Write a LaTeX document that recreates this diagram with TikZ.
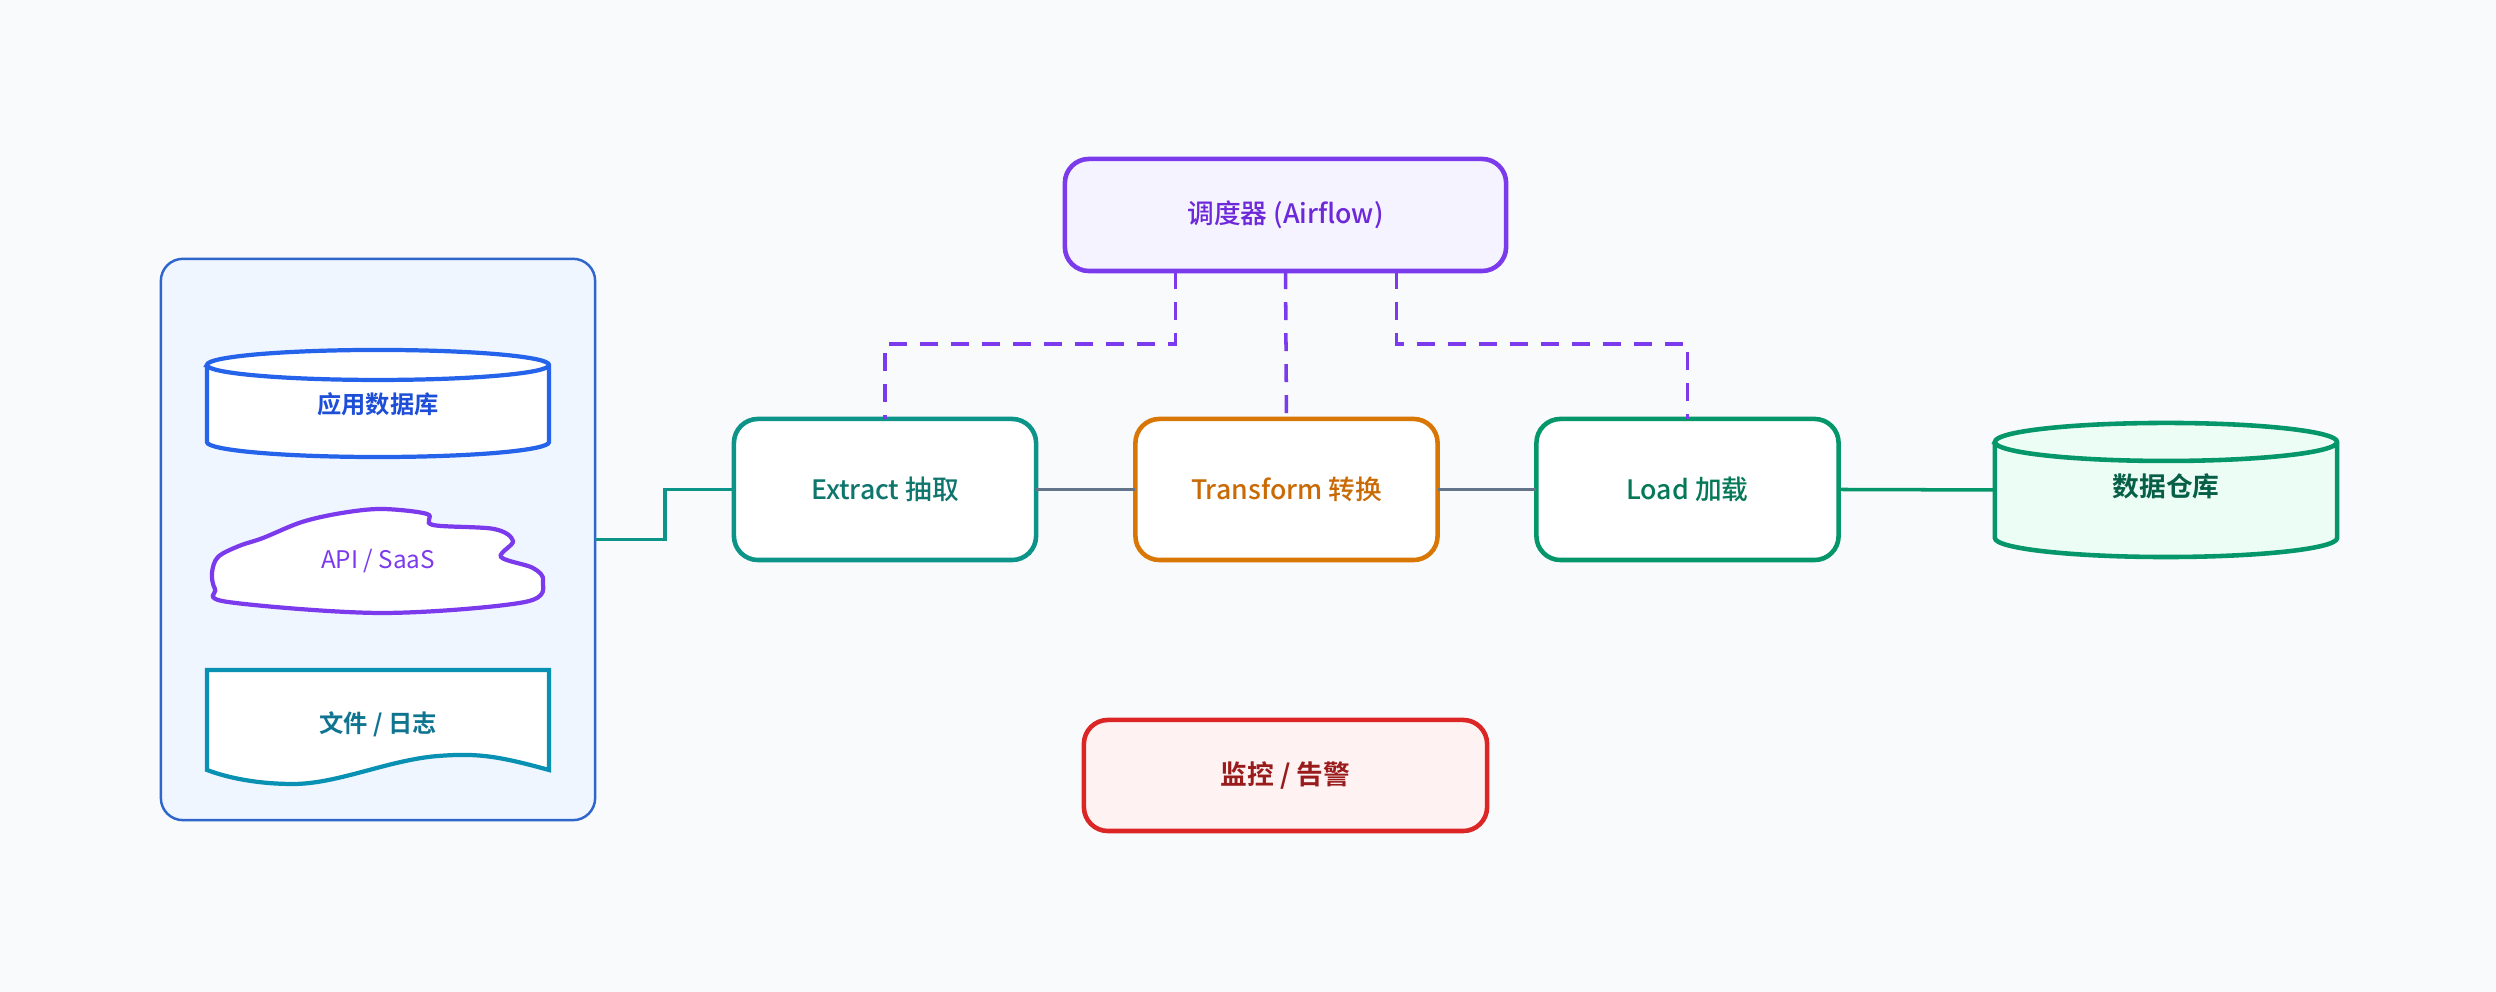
\documentclass[tikz,border=0pt]{standalone}
\usepackage{fontspec}
\setmainfont{Noto Sans CJK SC}
\newfontfamily\medfont{Noto Sans CJK SC Medium}
\newfontfamily\boldfont{Noto Sans CJK SC Bold}
\usepackage{tikz}
\usetikzlibrary{calc}
\definecolor{bg}{HTML}{F8FAFC}
\definecolor{srcfill}{HTML}{EFF6FF}
\definecolor{srcline}{HTML}{2F66CC}
\definecolor{dbline}{HTML}{2563EB}
\definecolor{dbtext}{HTML}{1D4ED8}
\definecolor{apiline}{HTML}{7C3AED}
\definecolor{fileline}{HTML}{0891B2}
\definecolor{filetext}{HTML}{0E7490}
\definecolor{extline}{HTML}{0D9488}
\definecolor{exttext}{HTML}{0F766E}
\definecolor{trline}{HTML}{D97706}
\definecolor{trtext}{HTML}{C96A05}
\definecolor{ldline}{HTML}{059669}
\definecolor{ldtext}{HTML}{047857}
\definecolor{dwhfill}{HTML}{ECFDF5}
\definecolor{dwhtext}{HTML}{065F46}
\definecolor{schfill}{HTML}{F5F3FF}
\definecolor{schtext}{HTML}{6D28D9}
\definecolor{monline}{HTML}{DC2626}
\definecolor{monfill}{HTML}{FEF2F2}
\definecolor{montext}{HTML}{991B1B}
\definecolor{flowgray}{HTML}{64748B}
\def\boxfont{\medfont\fontsize{7.6}{9}\selectfont}
\def\srcfont{\boldfont\fontsize{6.9}{8}\selectfont}
\tikzset{stage/.style={rectangle, draw, fill=white, line width=1.3pt,
    rounded corners=0.24cm, minimum width=3.02cm, minimum height=1.41cm,
    outer sep=0pt, font=\boxfont}}
\tikzset{srcitem/.style={rectangle, inner sep=0pt, outer sep=0pt,
    minimum width=3.42cm, font=\srcfont}}
\tikzset{flow/.style={line width=1pt, draw=flowgray}}
\tikzset{ctl/.style={line width=1pt, draw=apiline, dash pattern=on 0.18cm off 0.13cm}}
% cylinder outline round a node: node, half width, ellipse radius, options
\newcommand{\dbshape}[4]{%
  \draw[#4] ([yshift=-#3]#1.north west) -- ([yshift=#3]#1.south west)
    arc[start angle=180, end angle=360, x radius=#2, y radius=#3]
    -- ([yshift=-#3]#1.north east)
    arc[start angle=0, end angle=180, x radius=#2, y radius=#3] -- cycle;
  \draw[#4, fill=none] ([yshift=-#3]#1.north east)
    arc[start angle=0, end angle=-180, x radius=#2, y radius=#3];
}

\begin{document}
\begin{tikzpicture}[x=0.01cm, y=0.01cm]
\useasboundingbox (0,0) rectangle (2496,992);
\fill[bg] (0,0) rectangle (2496,992);

% sources
\node[rectangle, draw=srcline, fill=srcfill, line width=0.7pt, rounded corners=0.22cm,
  minimum width=4.34cm, minimum height=5.61cm, outer sep=0pt] (src) at (378,452.5) {};

\node[srcitem, minimum height=1.07cm, text=dbtext] (appdb) at (378,588.5) {};
\dbshape{appdb}{1.71cm}{0.15cm}{draw=dbline, fill=white, line width=1.2pt}
\node[font=\srcfont, text=dbtext] at (378,588) {应用数据库};

\node[srcitem, minimum height=1.04cm] (api) at (378,431) {};
\begin{scope}[shift={(api.center)}]
\draw[draw=apiline, fill=white, line width=1.2pt] plot[smooth cycle, tension=0.55] coordinates {
  (-166,-12) (-160,4) (-139,15) (-115,23) (-76,39) (-36,48) (4,52) (49,47)
  (55,36) (116,32) (135,20) (123,4) (155,-7) (165,-20) (147,-41)
  (4,-52) (-150,-41) (-163,-28)};
\end{scope}
\node[font=\fontsize{6.9}{8}\selectfont, text=apiline] at (378,431) {API / SaaS};

\node[srcitem, minimum height=1.13cm] (files) at (378,266) {};
\begin{scope}[shift={(files.center)}]
\draw[draw=fileline, fill=white, line width=1.2pt] (-171,56) -- (171,56) -- (171,-44)
  .. controls (120,-30) and (100,-27) .. (60,-30)
  .. controls (10,-34) and (-40,-58) .. (-85,-58)
  .. controls (-120,-58) and (-150,-52) .. (-171,-44) -- cycle;
\end{scope}
\node[font=\srcfont, text=filetext] at (378,268) {文件 / 日志};

% pipeline
\node[stage, draw=extline, text=exttext] (extract) at (885,502.5) {Extract 抽取};
\node[stage, draw=trline, text=trtext] (transform) at (1286.5,502.5) {Transform 转换};
\node[stage, draw=ldline, text=ldtext] (load) at (1687.5,502.5) {Load 加载};

\node[srcitem, minimum height=1.34cm] (dwh) at (2166,502) {};
\dbshape{dwh}{1.71cm}{0.19cm}{draw=ldline, fill=dwhfill, line width=1.3pt}
\node[font=\boldfont\fontsize{7.6}{9}\selectfont, text=dwhtext] at (2166,506) {数据仓库};

\node[stage, draw=apiline, fill=schfill, text=schtext, minimum width=4.41cm,
  minimum height=1.12cm] (sched) at (1285.5,777) {调度器 (Airflow)};
\node[stage, draw=monline, fill=monfill, text=montext, minimum width=4.03cm,
  minimum height=1.11cm, font=\boldfont\fontsize{7.6}{9}\selectfont] (monitor) at (1285.5,216.5) {监控 / 告警};

% connectors
\draw[line width=1pt, draw=extline] (src.east) -- ++(70,0) |- (extract.west);
\draw[flow] (extract.east) -- (transform.west);
\draw[flow] (transform.east) -- (load.west);
\draw[line width=1pt, draw=ldline] (load.east) -- (dwh.west);

\draw[ctl] ([xshift=-1.1cm]sched.south) -- ++(0,-73) -| (extract.north);
\draw[ctl] (sched.south) -- (transform.north);
\draw[ctl] ([xshift=1.11cm]sched.south) -- ++(0,-73) -| (load.north);

\end{tikzpicture}
\end{document}
